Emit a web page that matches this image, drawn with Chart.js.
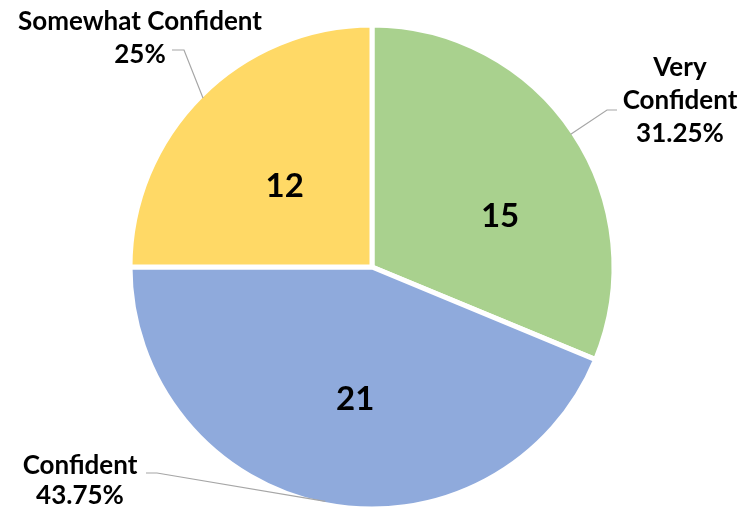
<!DOCTYPE html>
<html>
<head>
    <title>Confidence Pie</title>
    <script src="https://cdn.jsdelivr.net/npm/chart.js"></script>
    <style>
        body { margin: 0; background: #fff; }
        #wrap { width: 742px; height: 507px; }
    </style>
</head>
<body>
    <div id="wrap"><canvas id="pieChart"></canvas></div>

    <script>
        // categories and values
        var categories = ['Very Confident', 'Confident', 'Somewhat Confident'];
        var counts = [15, 21, 12];
        var sliceColors = ['#A9D18E', '#8FAADC', '#FFD966'];
        // how each outside label is broken into lines
        var labelLines = [['Very', 'Confident'], ['Confident'], ['Somewhat Confident']];

        var total = counts.reduce(function(a, b) { return a + b; }, 0);

        function pctText(v) {
            var p = Math.round(v / total * 10000) / 100;
            return p + '%';
        }

        // placement of the labels, relative to the pie centre
        var calloutStyle = [
            { text: [308, -199], gap: 33, elbow: [235, -157], end: [245, -157], hit: 0 },
            { text: [-292, 199], gap: 30, elbow: [-215, 206], end: [-226, 206], hit: 0 },
            { text: [-232, -245], gap: 33, elbow: [-188, -217], end: [-200, -217], hit: 0 }
        ];
        var innerStyle = [
            { shift: 12, r: 0.57 },
            { shift: -4, r: 0.55 },
            { shift: -2.4, r: 0.49 }
        ];

        var labelPlugin = {
            id: 'pieLabels',
            afterDatasetsDraw: function(chart) {
                var ctx = chart.ctx;
                var arcs = chart.getDatasetMeta(0).data;
                ctx.save();
                for (var i = 0; i < arcs.length; i++) {
                    var arc = arcs[i];
                    var cx = arc.x, cy = arc.y, R = arc.outerRadius;
                    var mid = (arc.startAngle + arc.endAngle) / 2;

                    // number inside the slice
                    var a = mid + innerStyle[i].shift * Math.PI / 180;
                    var rr = R * innerStyle[i].r;
                    ctx.fillStyle = '#000';
                    ctx.font = 'bold 33px Lato';
                    ctx.textAlign = 'center';
                    ctx.textBaseline = 'middle';
                    ctx.fillText(String(counts[i]), cx + rr * Math.cos(a), cy + rr * Math.sin(a));

                    // leader line
                    var cs = calloutStyle[i];
                    var ha = mid + cs.hit * Math.PI / 180;
                    ctx.strokeStyle = '#A6A6A6';
                    ctx.lineWidth = 1.2;
                    ctx.beginPath();
                    ctx.moveTo(cx + (R - 3) * Math.cos(ha), cy + (R - 3) * Math.sin(ha));
                    ctx.lineTo(cx + cs.elbow[0], cy + cs.elbow[1]);
                    ctx.lineTo(cx + cs.end[0], cy + cs.end[1]);
                    ctx.stroke();

                    // outside label: name lines + percent
                    var lines = labelLines[i].concat([pctText(counts[i])]);
                    for (var j = 0; j < lines.length; j++) {
                        ctx.font = 'bold 26px Lato';
                        ctx.fillText(lines[j], cx + cs.text[0], cy + cs.text[1] + j * cs.gap);
                    }
                }
                ctx.restore();
            }
        };

        var ctx = document.getElementById('pieChart').getContext('2d');
        var pieChart = new Chart(ctx, {
            type: 'pie',
            data: {
                labels: categories,
                datasets: [{
                    data: counts,
                    backgroundColor: sliceColors,
                    borderColor: '#ffffff',
                    borderWidth: 5,
                    hoverOffset: 0
                }]
            },
            options: {
                responsive: true,
                maintainAspectRatio: false,
                animation: false,
                radius: 242,
                layout: { padding: { top: 27, left: 2, right: 0, bottom: 0 } },
                plugins: {
                    legend: { display: false },
                    tooltip: { enabled: false }
                }
            },
            plugins: [labelPlugin]
        });
    </script>
</body>
</html>
